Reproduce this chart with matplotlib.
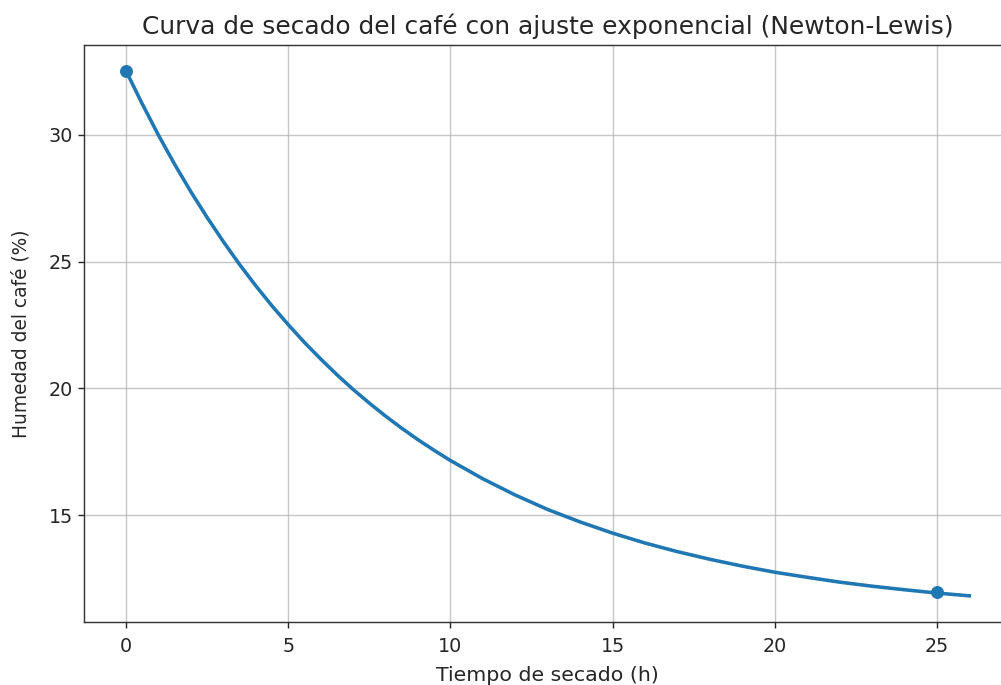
import matplotlib
matplotlib.use("Agg")
import matplotlib.pyplot as plt

# measured moisture (h, %)
t_data = [0, 25]
m_data = [32.5, 12.0]

# fitted Newton-Lewis curve (half-hourly where it bends most, then hourly)
t_fit = [0, 0.5, 1, 1.5, 2, 2.5, 3, 3.5, 4, 4.5, 5, 5.5, 6, 6.5, 7, 7.5,
         8, 8.5, 9, 9.5, 10, 11, 12, 13, 14, 15, 16, 17, 18, 19, 20, 21,
         22, 23, 24, 25, 26]
m_fit = [32.50, 31.20, 29.97, 28.82, 27.74, 26.73, 25.78, 24.88, 24.04,
         23.25, 22.51, 21.81, 21.16, 20.54, 19.96, 19.42, 18.91, 18.43,
         17.98, 17.56, 17.16, 16.44, 15.80, 15.23, 14.74, 14.30, 13.91,
         13.57, 13.27, 13.00, 12.76, 12.56, 12.37, 12.21, 12.07, 11.94, 11.83]

s = 1.28
text_col = '#262626'
plt.rcParams['axes.linewidth'] = 0.8 * s
plt.rcParams['axes.edgecolor'] = '#333333'
plt.rcParams['xtick.major.width'] = 0.8 * s
plt.rcParams['ytick.major.width'] = 0.8 * s
plt.rcParams['xtick.major.size'] = 3.5 * s
plt.rcParams['ytick.major.size'] = 3.5 * s
plt.rcParams['xtick.major.pad'] = 3.5 * s + 2
plt.rcParams['xtick.color'] = text_col
plt.rcParams['ytick.color'] = text_col

fig = plt.figure(figsize=(10.01, 6.85), dpi=100)
ax = fig.add_axes([0.0839, 0.0920, 0.9266, 0.8423])

ax.plot(t_fit, m_fit, color='C0', linewidth=2 * s, solid_joinstyle='round')
ax.scatter(t_data, m_data, color='C0', s=(6.5 * s) ** 2, zorder=3)

ax.set_xlim(-1.3, 27.3)
ax.set_ylim(10.8, 33.53)
ax.set_xticks([0, 5, 10, 15, 20, 25])
ax.set_yticks([15, 20, 25, 30])
ax.tick_params(labelsize=10 * s * 1.08)
ax.grid(True, linewidth=0.8 * s, color='#b0b0b0', alpha=0.7)

ax.set_title("Curva de secado del café con ajuste exponencial (Newton-Lewis)",
             fontsize=12 * s * 1.165, pad=6 * s, color=text_col)
ax.set_xlabel("Tiempo de secado (h)", fontsize=10 * s * 1.15,
              labelpad=4 * s + 2, color=text_col)
ax.set_ylabel("Humedad del café (%)", fontsize=10 * s * 1.05,
              labelpad=4 * s + 8, color=text_col)

fig.savefig("out.png", dpi=100)
